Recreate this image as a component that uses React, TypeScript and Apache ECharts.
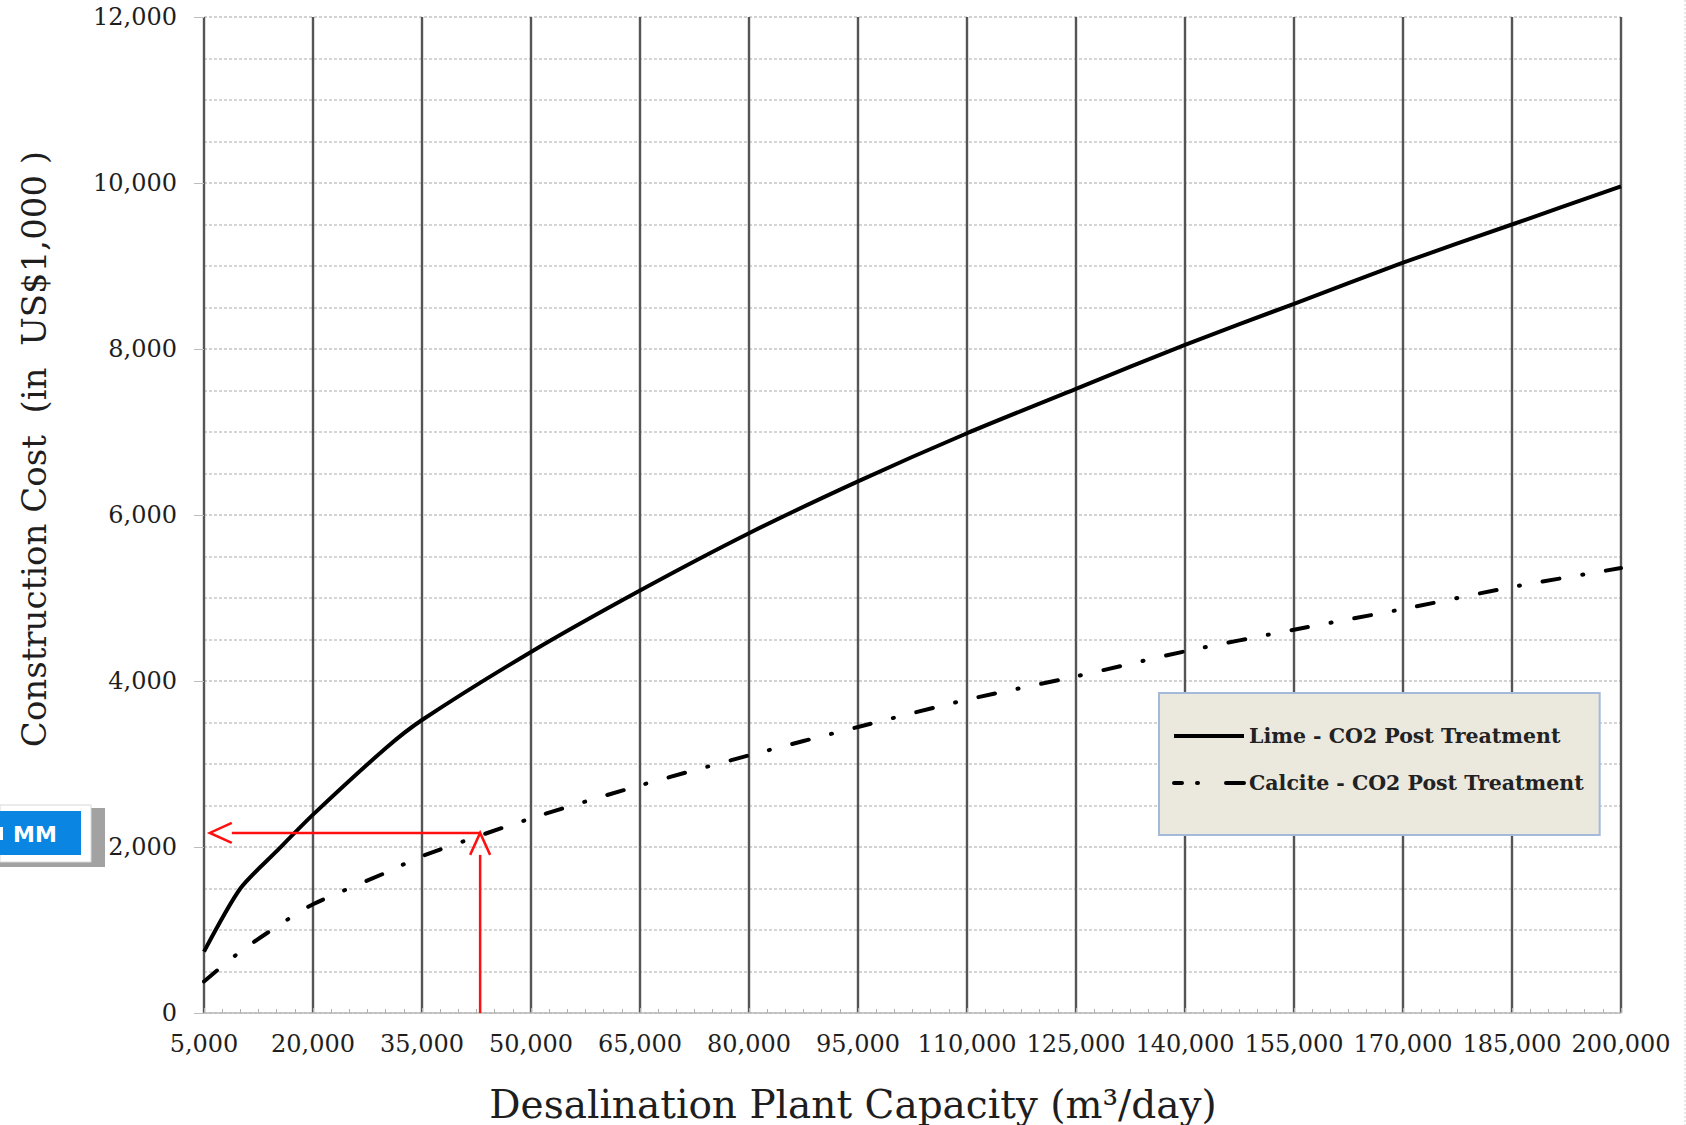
import React, { useEffect, useRef } from "react";
import * as echarts from "echarts";

// ---- data ----
const X_MIN = 5000;
const X_MAX = 200000;
const X_STEP = 15000;
const capacities = [5000, 10000, 15000, 20000, 30000, 35000, 50000, 65000, 80000, 95000, 110000, 125000, 140000, 155000, 170000, 185000, 200000];
const limeCost = [740, 1500, 1950, 2390, 3190, 3530, 4350, 5090, 5780, 6405, 6985, 7520, 8050, 8545, 9040, 9500, 9960];
const calciteCost = [380, 740, 1040, 1310, 1690, 1890, 2345, 2742, 3104, 3446, 3775, 4056, 4357, 4618, 4867, 5132, 5361];
const seriesNames = ["Lime - CO2 Post Treatment", "Calcite - CO2 Post Treatment"];
const yTicks = { min: 0, max: 12000, interval: 2000 };
const annotationCapacity = 43000;
const annotationCost = 2170;
const annotationArrowEndCapacity = 5800;
const yTitle = "Construction Cost  (in  US$1,000 )";
const xTitle = "Desalination Plant Capacity (m³/day)";
const badgeText = "MM";

const SERIF = '"DejaVu Serif", "Liberation Serif", serif';

export default function App() {
  const ref = useRef<HTMLDivElement>(null);
  useEffect(() => {
    if (!ref.current) return;
    const chart = echarts.init(ref.current, undefined, { renderer: "svg" });
    const toX = (c: number) => c - X_MIN;
    const red = "#ff1010";
    const calciteDash = [17, 23, 1, 23];
    const option: any = {
      animation: false,
      backgroundColor: "#ffffff",
      grid: { left: 204, right: 65, top: 17, bottom: 112, containLabel: false },
      xAxis: {
        type: "value",
        min: 0,
        max: X_MAX - X_MIN,
        interval: X_STEP,
        axisLine: { show: true, lineStyle: { color: "#b9b9b9", width: 1.5 } },
        axisTick: { show: true, inside: true, length: 5, lineStyle: { color: "#b0b0b0" } },
        minorTick: { show: true, splitNumber: 6, length: 4, lineStyle: { color: "#b0b0b0" } },
        axisLabel: {
          show: true,
          interval: 0,
          margin: 19,
          color: "#1e1e1e",
          fontFamily: SERIF,
          fontSize: 24,
          formatter: (v: number) => (v + X_MIN).toLocaleString("en-US"),
        },
        splitLine: { show: true, lineStyle: { color: "#555555", width: 2.4 } },
      },
      yAxis: {
        type: "value",
        min: yTicks.min,
        max: yTicks.max,
        interval: yTicks.interval,
        axisLine: { show: false },
        axisTick: { show: true, length: 10, lineStyle: { color: "#bdbdbd" } },
        axisLabel: {
          margin: 27,
          color: "#1e1e1e",
          fontFamily: SERIF,
          fontSize: 24,
          formatter: (v: number) => v.toLocaleString("en-US"),
        },
        splitLine: { show: true, lineStyle: { color: "#c4c4c4", width: 1.5, type: [3, 2] } },
        minorTick: { show: false, splitNumber: 4 },
        minorSplitLine: { show: true, lineStyle: { color: "#c8c8c8", width: 1.5, type: [3, 2] } },
      },
      legend: {
        show: true,
        orient: "vertical",
        left: 1159,
        top: 693,
        data: [
          { name: seriesNames[0] },
          { name: seriesNames[1], lineStyle: { type: [8, 15, 1, 28, 24, 10], cap: "round" } },
        ],
        backgroundColor: "#ebe8de",
        borderColor: "#a3badb",
        borderWidth: 2,
        borderRadius: 0,
        padding: [31, 16, 40, 13],
        itemWidth: 70,
        itemHeight: 14,
        itemGap: 23,
        selectedMode: false,
        itemStyle: { opacity: 0 },
        lineStyle: { width: 4 },
        textStyle: {
          fontFamily: SERIF,
          fontWeight: "bold",
          fontSize: 20.5,
          color: "#222",
          lineHeight: 24,
        },
      },
      series: [
        {
          name: seriesNames[0],
          type: "line",
          data: capacities.map((c, i) => [toX(c), limeCost[i]]),
          showSymbol: false,
          symbol: "none",
          smooth: 0.25,
          lineStyle: { color: "#000", width: 4 },
          itemStyle: { color: "#000" },
          z: 3,
        },
        {
          name: seriesNames[1],
          type: "line",
          data: capacities.map((c, i) => [toX(c), calciteCost[i]]),
          showSymbol: false,
          symbol: "none",
          smooth: 0.25,
          lineStyle: { color: "#000", width: 4, type: calciteDash, cap: "round" },
          itemStyle: { color: "#000" },
          z: 3,
        },
        {
          name: "annotation",
          type: "custom",
          data: [[toX(annotationCapacity), annotationCost]],
          z: 5,
          renderItem: (_params: any, api: any) => {
            const tip = api.coord([api.value(0), api.value(1)]);
            const base = api.coord([api.value(0), 0]);
            const leftTip = api.coord([toX(annotationArrowEndCapacity), api.value(1)]);
            const h = 22;
            const w = 10;
            const style = { stroke: red, lineWidth: 2.5, fill: "none" };
            return {
              type: "group",
              children: [
                { type: "polyline", shape: { points: [[base[0], base[1]], [tip[0], tip[1] + h]] }, style },
                { type: "polyline", shape: { points: [[tip[0] - w, tip[1] + h], [tip[0], tip[1]], [tip[0] + w, tip[1] + h]] }, style },
                { type: "polyline", shape: { points: [[tip[0], tip[1]], [leftTip[0] + h, leftTip[1]]] }, style },
                { type: "polyline", shape: { points: [[leftTip[0] + h, leftTip[1] - w], [leftTip[0], leftTip[1]], [leftTip[0] + h, leftTip[1] + w]] }, style },
              ],
            };
          },
        },
      ],
      graphic: [
        {
          type: "text",
          x: 34,
          y: 449,
          rotation: Math.PI / 2,
          style: {
            text: yTitle,
            fill: "#1e1e1e",
            font: `34px ${SERIF}`,
            textAlign: "center",
            textVerticalAlign: "middle",
            align: "center",
            verticalAlign: "middle",
          },
        },
        {
          type: "text",
          x: 853,
          y: 1104,
          style: {
            text: xTitle,
            fill: "#1e1e1e",
            font: `39px ${SERIF}`,
            textAlign: "center",
            textVerticalAlign: "middle",
            align: "center",
            verticalAlign: "middle",
          },
        },
        { type: "rect", shape: { x: 0, y: 808, width: 105, height: 59 }, style: { fill: "#a2a2a2" } },
        { type: "rect", shape: { x: 0, y: 805, width: 91, height: 57 }, style: { fill: "#ffffff", stroke: "#d8d8d8", lineWidth: 1 } },
        { type: "rect", shape: { x: 0, y: 811, width: 81, height: 44 }, style: { fill: "#0a86e2" } },
        { type: "rect", shape: { x: 0, y: 827, width: 3, height: 13 }, style: { fill: "#ffffff" } },
        {
          type: "text",
          x: 13,
          y: 834,
          style: {
            text: badgeText,
            fill: "#ffffff",
            font: 'bold 22px "DejaVu Sans", Arial, sans-serif',
            textAlign: "left",
            textVerticalAlign: "middle",
            align: "left",
            verticalAlign: "middle",
          },
        },
        {
          type: "line",
          shape: { x1: 1685, y1: 0, x2: 1685, y2: 1125 },
          style: { stroke: "#d0d0d0", lineWidth: 1, lineDash: [2, 2] },
        },
      ],
    };
    chart.setOption(option);
    return () => chart.dispose();
  }, []);
  return (
    <div
      ref={ref}
      style={{ position: "absolute", left: 0, top: 0, width: 1686, height: 1125, background: "#fff" }}
    />
  );
}
